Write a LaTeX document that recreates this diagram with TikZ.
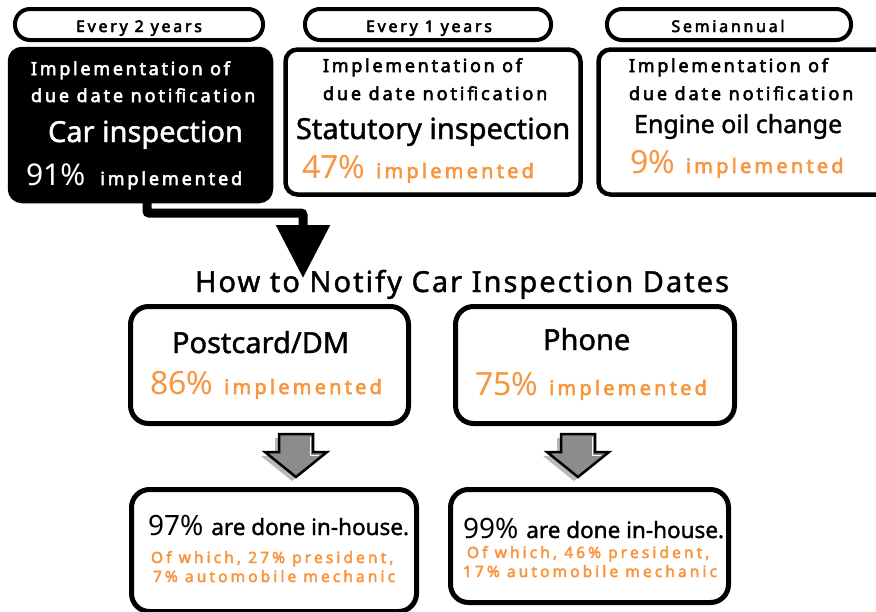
\documentclass[tikz,border=0pt]{standalone}
\usepackage{fontspec}
\setmainfont{Noto Sans}
\newfontfamily\spacedfont[FakeBold=3]{Noto Sans}
\newfontfamily\medfont[FakeBold=1.4]{Noto Sans}
\usetikzlibrary{arrows.meta,calc}
\definecolor{notiorange}{HTML}{F7963F}
\definecolor{arrowgray}{HTML}{8C8C8C}
\newcommand{\fsz}[1]{\fontsize{#1}{#1}\selectfont}

\begin{document}
\begin{tikzpicture}[x=1pt, y=-1pt,
  every node/.style={inner sep=0pt, outer sep=0pt},
  pill/.style={draw, line width=4pt, rounded corners=15pt, minimum height=31pt},
  card/.style={draw, line width=4.5pt, rounded corners=12pt},
  method/.style={draw, line width=5pt, rounded corners=18pt},
  spacedtxt/.style 2 args={anchor=base west, font=\spacedfont\fsz{#1}\addfontfeature{LetterSpace=#2}},
  bodytxt/.style={anchor=base west, font=\medfont\fsz{#1}},
  link/.style={line width=9pt, rounded corners=2pt, -{Triangle[length=53pt,width=52pt]}},
  blockarrow/.style={fill=arrowgray, draw=black, line width=2.5pt, line join=miter}]

\useasboundingbox (0,0) rectangle (876,611);

% Frequency labels
\node[pill, minimum width=248pt] (p1) at (139,24.5) {};
\node[pill, minimum width=246pt] (p2) at (428,24.5) {};
\node[pill, minimum width=244pt] (p3) at (729,24.5) {};
\node[spacedtxt={16}{17}, anchor=base] (p1t) at (139,32) {Every 2 years};
\node[spacedtxt={16}{17}, anchor=base] (p2t) at (429,32) {Every 1 years};
\node[spacedtxt={16}{17}, anchor=base] (p3t) at (728,32) {Semiannual};

% Notification cards
\node[card, fill=black, minimum width=261pt, minimum height=152pt] (car) at (140.5,125) {};
\node[card, minimum width=295pt, minimum height=145pt] (statutory) at (433,122) {};
\node[card, minimum width=290pt, minimum height=145pt] (oil) at (743.5,122) {};

% Card 1
\node[spacedtxt={18}{15}, text=white] (car1) at (31,75) {Implementation of};
\node[spacedtxt={18}{16}, text=white] (car2) at (31,102) {due date notification};
\node[bodytxt=29, text=white] (car3) at (48,142) {Car inspection};
\node[spacedtxt={18}{16}, text=white] (car4) at (26,185) {{\normalfont\fsz{30}91\%}\hspace{15pt}implemented};

% Card 2
\node[spacedtxt={18}{15}] (st1) at (323,72) {Implementation of};
\node[spacedtxt={18}{16}] (st2) at (323,100) {due date notification};
\node[bodytxt=29] (st3) at (296,139) {Statutory inspection};
\node[spacedtxt={20}{16}, text=notiorange] (st4) at (302,178) {{\normalfont\fsz{32}47\%}\hspace{11pt}implemented};

% Card 3
\node[spacedtxt={18}{15}] (oil1) at (629,72) {Implementation of};
\node[spacedtxt={18}{16}] (oil2) at (629,100) {due date notification};
\node[bodytxt=25] (oil3) at (634,133) {Engine oil change};
\node[spacedtxt={20}{16}, text=notiorange] (oil4) at (630,173) {{\normalfont\fsz{32}9\%}\hspace{11pt}implemented};

% Connector to methods
\coordinate (tip) at (303,278);
\draw[link] ([xshift=6.5pt]car.south) ++(0,-4) |- (303,213) -- (tip);

% Methods
\node[anchor=base, font=\medfont\fsz{29}\addfontfeature{LetterSpace=7}] (title) at (462,292) {How to Notify Car Inspection Dates};
\node[method, minimum width=278pt, minimum height=117pt] (postcard) at (269.5,365) {};
\node[method, minimum width=279pt, minimum height=117pt] (phone) at (595,365) {};
\node[bodytxt=29] (pc1) at (172,353) {Postcard/DM};
\node[spacedtxt={20}{16}, text=notiorange] (pc2) at (150,394) {{\normalfont\fsz{32}86\%}\hspace{11pt}implemented};
\node[bodytxt=29] (ph1) at (543,350) {Phone};
\node[spacedtxt={20}{16}, text=notiorange] (ph2) at (475,395) {{\normalfont\fsz{32}75\%}\hspace{11pt}implemented};

% Down arrows
\foreach \ax in {296,578} {
  \fill[gray!55, shift={(-4,4)}] (\ax-17,434) -- (\ax+17,434) -- (\ax+17,452) -- (\ax+31,452)
    -- (\ax,477) -- (\ax-31,452) -- (\ax-17,452) -- cycle;
  \draw[blockarrow] (\ax-17,434) -- (\ax+17,434) -- (\ax+17,452) -- (\ax+31,452)
    -- (\ax,477) -- (\ax-31,452) -- (\ax-17,452) -- cycle;
  \draw[white, line width=1pt] (\ax+14,437) -- (\ax+14,455) -- (\ax+23,455);
}

% In-house results
\node[method, minimum width=285pt, minimum height=122pt] (house1) at (274,550.5) {};
\node[method, minimum width=278pt, minimum height=113pt] (house2) at (589.5,546) {};
\node[bodytxt=22.5] (h1a) at (148,535) {{\normalfont\fsz{28}97\%}\hspace{8pt}are done in-house.};
\node[spacedtxt={15.5}{20}, text=notiorange] (h1b) at (151,563) {Of which, 27\% president,};
\node[spacedtxt={15.5}{20}, text=notiorange] (h1c) at (153,582) {7\% automobile mechanic};
\node[bodytxt=22.5] (h2a) at (463,538) {{\normalfont\fsz{28}99\%}\hspace{8pt}are done in-house.};
\node[spacedtxt={15.5}{20}, text=notiorange] (h2b) at (467,558) {Of which, 46\% president,};
\node[spacedtxt={15.5}{20}, text=notiorange] (h2c) at (463,577) {17\% automobile mechanic};

\end{tikzpicture}
\end{document}
